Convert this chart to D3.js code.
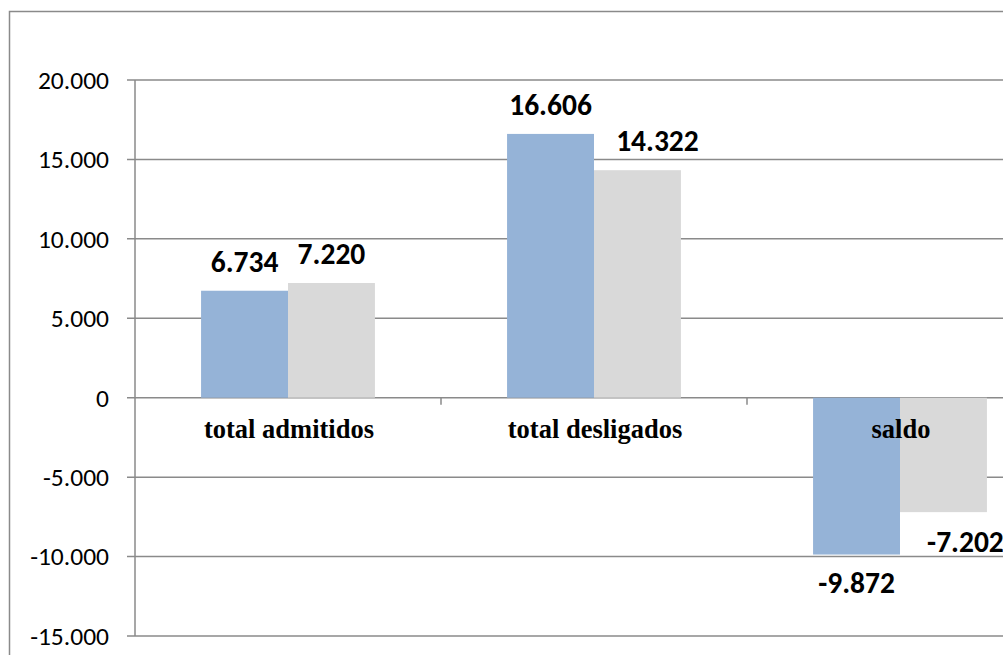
<!DOCTYPE html>
<html>
<head>
<meta charset="utf-8">
<script src="https://cdn.jsdelivr.net/npm/d3@7"></script>
<style>
  html, body { margin: 0; padding: 0; background: #fff; overflow: hidden; }
</style>
</head>
<body>
<script>
// Data
const categories = ["total admitidos", "total desligados", "saldo"];
const series = ["periodo1", "periodo2"];
const valuesPeriodo1 = [6734, 16606, -9872];
const valuesPeriodo2 = [7220, 14322, -7202];
const yTicks = [-15000, -10000, -5000, 0, 5000, 10000, 15000, 20000];

const colors = {periodo1: "#95b3d7", periodo2: "#d9d9d9"};
const gridColor = "#8a8a8a";

const width = 1003, height = 655;
const plot = {left: 135, top: 80, bottom: 636, right: 1053};

// Portuguese style numbers: 16.606, -9.872
const locale = d3.formatLocale({decimal: ",", thousands: ".", grouping: [3], currency: ["", ""], minus: "-"});
const fmt = locale.format(",d");

const svg = d3.select("body").append("svg")
  .attr("width", width)
  .attr("height", height);

// chart frame (runs off the right and bottom of the picture)
svg.append("rect")
  .attr("x", 9.5).attr("y", 11.5)
  .attr("width", 1100).attr("height", 700)
  .attr("fill", "none")
  .attr("stroke", gridColor)
  .attr("stroke-width", 1.5);

const y = d3.scaleLinear()
  .domain([-15000, 20000])
  .range([plot.bottom, plot.top]);

const x0 = d3.scaleBand()
  .domain(categories)
  .range([plot.left, plot.right]);

const x1 = d3.scaleBand()
  .domain(series)
  .range([0, x0.bandwidth()])
  .paddingInner(0)
  .paddingOuter(0.76);

// gridlines
svg.append("g")
  .selectAll("line")
  .data(yTicks)
  .join("line")
  .attr("x1", plot.left - 8)
  .attr("x2", 1100)
  .attr("y1", d => y(d))
  .attr("y2", d => y(d))
  .attr("stroke", gridColor)
  .attr("stroke-width", 1.5);

// y axis line
svg.append("line")
  .attr("x1", plot.left).attr("x2", plot.left)
  .attr("y1", y(20000)).attr("y2", y(-15000))
  .attr("stroke", gridColor)
  .attr("stroke-width", 1.5);

// y tick labels
svg.append("g")
  .selectAll("text")
  .data(yTicks)
  .join("text")
  .attr("x", 109)
  .attr("y", d => y(d))
  .attr("dy", "0.35em")
  .attr("text-anchor", "end")
  .attr("font-family", "Carlito, Calibri, 'Liberation Sans', sans-serif")
  .attr("font-size", 25.5)
  .attr("fill", "#000")
  .text(d => fmt(d));

// bars
const rows = categories.map((c, i) => ({
  cat: c,
  vals: [
    {key: "periodo1", value: valuesPeriodo1[i]},
    {key: "periodo2", value: valuesPeriodo2[i]}
  ]
}));

const groups = svg.append("g")
  .selectAll("g")
  .data(rows)
  .join("g")
  .attr("transform", d => `translate(${x0(d.cat)},0)`);

groups.selectAll("rect")
  .data(d => d.vals)
  .join("rect")
  .attr("x", d => x1(d.key))
  .attr("width", x1.bandwidth())
  .attr("y", d => y(Math.max(0, d.value)))
  .attr("height", d => Math.abs(y(d.value) - y(0)))
  .attr("fill", d => colors[d.key]);

// category tick marks on the zero line
svg.append("g")
  .selectAll("line")
  .data(categories.slice(1))
  .join("line")
  .attr("x1", d => x0(d)).attr("x2", d => x0(d))
  .attr("y1", y(0)).attr("y2", y(0) + 7)
  .attr("stroke", gridColor)
  .attr("stroke-width", 1.5);

// category labels
svg.append("g")
  .selectAll("text")
  .data(categories)
  .join("text")
  .attr("x", d => x0(d) + x0.bandwidth() / 2 + 1)
  .attr("y", y(0) + 40)
  .attr("text-anchor", "middle")
  .attr("font-family", "'Liberation Serif', 'Times New Roman', serif")
  .attr("font-weight", "bold")
  .attr("font-size", 26.5)
  .attr("fill", "#000")
  .text(d => d);

// value labels; a few are nudged sideways like in the original
const nudge = {"total desligados|periodo2": 20, "saldo|periodo2": 22};
groups.selectAll("text")
  .data(d => d.vals.map(v => ({...v, cat: d.cat})))
  .join("text")
  .attr("x", d => x1(d.key) + x1.bandwidth() / 2 + (nudge[d.cat + "|" + d.key] || 0))
  .attr("y", d => d.value >= 0 ? y(d.value) - 19 : y(d.value) + (d.key === "periodo2" ? 40 : 38))
  .attr("text-anchor", "middle")
  .attr("font-family", "Carlito, Calibri, 'Liberation Sans', sans-serif")
  .attr("font-weight", "bold")
  .attr("font-size", 29.5)
  .attr("fill", "#000")
  .text(d => fmt(d.value));
</script>
</body>
</html>
